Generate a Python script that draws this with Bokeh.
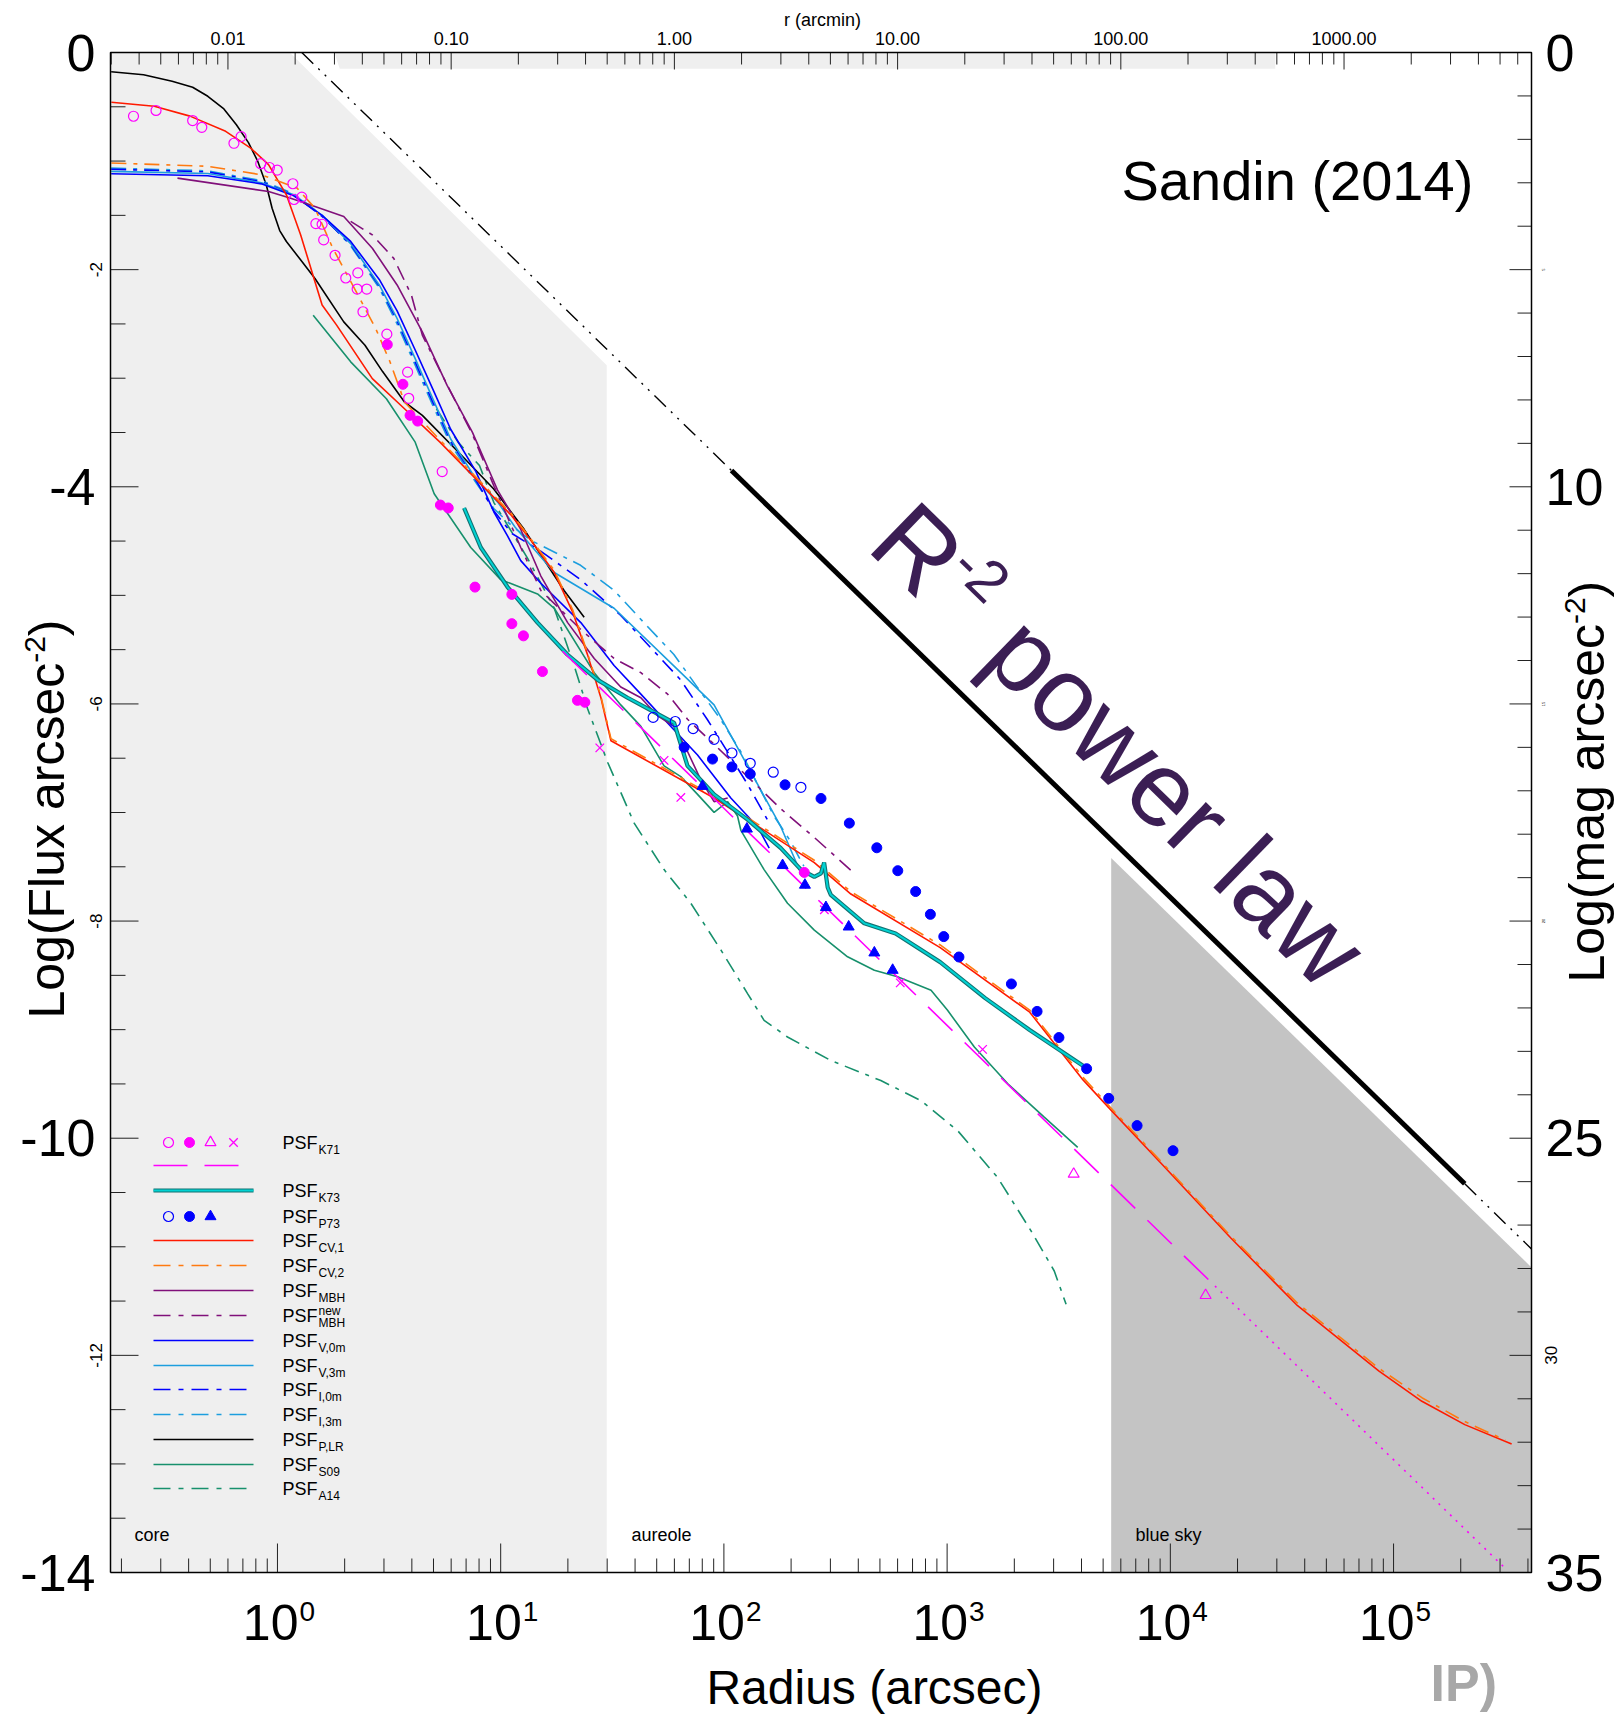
import math
from bokeh.plotting import figure
from bokeh.models import Range1d, Label
from bokeh.embed import file_html
from bokeh.resources import INLINE

# ---------------- data: log10(radius / arcsec) and log10(flux / arcsec^-2) ----------------
plr_r = [-0.745, -0.600, -0.472, -0.380, -0.312, -0.240, -0.184, -0.130, -0.088, -0.050, -0.024, 0.010, 0.040, 0.100, 0.168, 0.297, 0.392, 0.471, 0.569, 0.649, 0.809, 0.969, 1.105, 1.284, 1.374]
plr_f = [-0.178, -0.205, -0.264, -0.320, -0.403, -0.520, -0.665, -0.830, -1.003, -1.220, -1.434, -1.640, -1.741, -1.900, -2.081, -2.481, -2.696, -2.939, -3.219, -3.342, -3.677, -4.020, -4.392, -4.955, -5.201]

cv1_r = [-0.744, -0.552, -0.392, -0.232, -0.120, -0.040, 0.040, 0.104, 0.168, 0.200, 0.265, 0.425, 0.569, 0.728, 0.889, 1.049, 1.135, 1.240, 1.322, 1.389, 1.449, 1.494, 1.956, 2.405, 2.569, 2.969, 3.370, 3.609, 3.729, 3.970, 4.270, 4.570, 4.935, 5.127, 5.319, 5.529]
cv1_f = [-0.458, -0.495, -0.586, -0.726, -0.880, -1.033, -1.311, -1.680, -2.111, -2.326, -2.511, -3.004, -3.281, -3.589, -3.927, -4.266, -4.493, -4.789, -5.152, -5.546, -5.943, -6.339, -6.867, -7.461, -7.751, -8.245, -8.839, -9.463, -9.730, -10.256, -10.917, -11.543, -12.146, -12.423, -12.638, -12.816]

cv2_r = [-0.744, -0.312, -0.072, 0.088, 0.168, 0.248, 0.360, 0.440, 0.504, 0.569, 0.728, 0.889, 1.049, 1.135, 1.240, 1.322, 1.389, 1.449, 1.494, 1.956, 2.405, 2.569, 2.969, 3.370, 3.609, 3.729, 3.970, 4.270, 4.570, 4.935, 5.127, 5.319, 5.500]
cv2_f = [-1.018, -1.048, -1.126, -1.249, -1.434, -1.803, -2.232, -2.542, -2.848, -3.219, -3.570, -3.910, -4.250, -4.480, -4.770, -5.130, -5.530, -5.930, -6.320, -6.850, -7.440, -7.730, -8.220, -8.820, -9.440, -9.710, -10.240, -10.900, -11.520, -12.120, -12.390, -12.610, -12.780]

mbh_r = [-0.448, -0.040, 0.056, 0.168, 0.297, 0.425, 0.536, 0.649, 0.760, 0.873, 0.986, 1.090, 1.180, 1.300, 1.419, 1.538, 1.628, 1.703, 1.777, 1.837, 1.897, 1.956, 2.017]
mbh_f = [-1.157, -1.280, -1.341, -1.418, -1.511, -1.803, -2.141, -2.573, -3.066, -3.496, -4.030, -4.393, -4.822, -5.251, -5.581, -5.844, -5.943, -6.109, -6.207, -6.438, -6.702, -6.900, -6.867]

mbhn_r = [0.328, 0.425, 0.521, 0.600, 0.649, 0.760, 0.873, 0.971, 1.090, 1.180, 1.359, 1.508, 1.628, 1.748, 1.837, 1.956, 2.106, 2.255, 2.405, 2.584]
mbhn_f = [-1.556, -1.680, -1.896, -2.234, -2.603, -3.061, -3.515, -3.998, -4.559, -4.955, -5.315, -5.581, -5.712, -5.910, -6.141, -6.372, -6.670, -6.966, -7.230, -7.560]

v0_r = [-0.745, -0.312, -0.072, 0.073, 0.200, 0.328, 0.456, 0.536, 0.617, 0.696, 0.776, 0.889, 0.969, 1.030, 1.090, 1.180, 1.359, 1.508, 1.628, 1.732, 1.882, 2.031, 2.151, 2.203]
v0_f = [-1.117, -1.135, -1.210, -1.320, -1.500, -1.740, -2.090, -2.380, -2.740, -3.100, -3.470, -3.860, -4.230, -4.450, -4.680, -4.888, -5.251, -5.646, -5.910, -6.141, -6.471, -6.867, -7.131, -7.328]

v3_r = [-0.745, -0.312, -0.072, 0.073, 0.200, 0.328, 0.456, 0.536, 0.617, 0.696, 0.776, 0.889, 0.990, 1.064, 1.240, 1.508, 1.807, 1.956, 2.106, 2.255, 2.345]
v3_f = [-1.095, -1.115, -1.200, -1.310, -1.500, -1.760, -2.140, -2.450, -2.820, -3.190, -3.560, -3.930, -4.150, -4.370, -4.789, -5.119, -5.712, -6.009, -6.571, -7.131, -7.560]

i0_r = [-0.745, -0.312, -0.072, 0.073, 0.200, 0.328, 0.456, 0.536, 0.617, 0.696, 0.776, 0.889, 0.969, 1.050, 1.179, 1.358, 1.537, 1.686, 1.806, 1.925, 2.015, 2.104, 2.194]
i0_f = [-1.075, -1.100, -1.190, -1.310, -1.510, -1.770, -2.150, -2.470, -2.850, -3.220, -3.580, -3.940, -4.220, -4.430, -4.593, -4.855, -5.183, -5.513, -5.778, -6.141, -6.437, -6.733, -7.063]

i3_r = [-0.745, -0.312, -0.072, 0.073, 0.200, 0.328, 0.456, 0.536, 0.617, 0.696, 0.776, 0.889, 0.969, 1.050, 1.134, 1.358, 1.507, 1.656, 1.776, 1.880, 1.985, 2.075, 2.149, 2.224, 2.298, 2.358]
i3_f = [-1.065, -1.090, -1.180, -1.300, -1.500, -1.780, -2.170, -2.500, -2.880, -3.250, -3.610, -3.960, -4.200, -4.360, -4.492, -4.723, -4.952, -5.283, -5.545, -5.843, -6.141, -6.437, -6.733, -7.030, -7.264, -7.494]

s09_r = [0.160, 0.328, 0.488, 0.617, 0.702, 0.866, 1.000, 1.165, 1.240, 1.419, 1.538, 1.628, 1.732, 1.807, 1.882, 1.956, 2.017, 2.061, 2.076, 2.180, 2.285, 2.405, 2.554, 2.674, 2.778, 2.928, 3.002, 3.122, 3.272, 3.435, 3.585]
s09_f = [-2.419, -2.849, -3.189, -3.589, -4.064, -4.559, -4.855, -4.987, -5.119, -5.712, -6.009, -6.207, -6.571, -6.670, -6.833, -6.999, -6.900, -7.032, -7.164, -7.526, -7.836, -8.083, -8.329, -8.453, -8.513, -8.637, -8.822, -9.160, -9.499, -9.806, -10.084]

a14_r = [0.712, 0.809, 0.905, 0.969, 1.120, 1.240, 1.329, 1.389, 1.479, 1.598, 1.732, 1.852, 1.987, 2.106, 2.180, 2.285, 2.479, 2.703, 2.883, 3.047, 3.226, 3.376, 3.480, 3.533]
a14_f = [-3.281, -3.589, -3.804, -4.143, -4.657, -5.119, -5.646, -6.042, -6.537, -7.098, -7.526, -7.836, -8.268, -8.668, -8.914, -9.068, -9.284, -9.469, -9.654, -9.930, -10.361, -10.854, -11.223, -11.530]

k73_r = [0.836, 0.911, 1.030, 1.165, 1.300, 1.434, 1.568, 1.688, 1.777, 1.792, 1.837, 1.897, 1.956, 2.106, 2.255, 2.345, 2.405, 2.435, 2.449, 2.465, 2.479, 2.629, 2.769, 2.969, 3.169, 3.370, 3.609]
k73_f = [-4.195, -4.559, -4.921, -5.251, -5.547, -5.778, -5.943, -6.076, -6.175, -6.273, -6.571, -6.702, -6.833, -7.065, -7.328, -7.526, -7.593, -7.560, -7.461, -7.691, -7.758, -8.021, -8.114, -8.378, -8.707, -9.004, -9.333]

# K71 power-law fit (dashed, then dotted)
k71line_dash_r = [1.277, 4.200]
k71line_dash_f = [-5.515, -11.361]
k71line_dot_r = [4.200, 5.510]
k71line_dot_f = [-11.361, -13.981]

# K71 measurements
k71_open_r = [-0.645, -0.544, -0.380, -0.339, -0.195, -0.163, -0.075, -0.036, -0.001, 0.069, 0.074, 0.109, 0.172, 0.200, 0.207, 0.258, 0.306, 0.360, 0.357, 0.400, 0.383, 0.490, 0.583, 0.588, 0.738]
k71_open_f = [-0.587, -0.534, -0.627, -0.689, -0.836, -0.775, -1.024, -1.059, -1.083, -1.209, -1.354, -1.332, -1.576, -1.582, -1.726, -1.868, -2.077, -2.030, -2.179, -2.179, -2.388, -2.594, -2.944, -3.185, -3.860]
k71_fill_r = [0.492, 0.562, 0.594, 0.628, 0.730, 0.765, 0.885, 1.050, 1.050, 1.102, 1.187, 1.344, 1.377, 2.360]
k71_fill_f = [-2.690, -3.056, -3.342, -3.395, -4.168, -4.195, -4.924, -4.991, -5.261, -5.373, -5.702, -5.967, -5.985, -7.552]
k71_tri_r = [3.567, 4.158]
k71_tri_f = [-10.330, -11.447]
k71_x_r = [1.444, 1.732, 1.807, 2.450, 2.790, 3.159]
k71_x_f = [-6.405, -6.520, -6.861, -7.896, -8.569, -9.182]

# P73 measurements
p73_open_r = [1.683, 1.782, 1.862, 1.956, 2.036, 2.118, 2.221, 2.345]
p73_open_f = [-6.124, -6.162, -6.227, -6.326, -6.452, -6.547, -6.629, -6.768]
p73_fill_r = [1.822, 1.949, 2.036, 2.118, 2.274, 2.435, 2.562, 2.685, 2.779, 2.859, 2.925, 2.985, 3.053, 3.288, 3.403, 3.501, 3.625, 3.724, 3.851, 4.012]
p73_fill_f = [-6.399, -6.508, -6.580, -6.645, -6.745, -6.871, -7.098, -7.325, -7.536, -7.728, -7.938, -8.143, -8.331, -8.579, -8.832, -9.073, -9.360, -9.633, -9.884, -10.115]
p73_tri_r = [1.904, 2.103, 2.263, 2.363, 2.457, 2.559, 2.674, 2.756]
p73_tri_f = [-6.758, -7.151, -7.487, -7.668, -7.874, -8.053, -8.292, -8.452]

# R^-2 reference line (thin / thick / thin)
rlaw_thin1_r = [0.109, 2.034]
rlaw_thin1_f = [0.0, -3.850]
rlaw_thick_r = [2.034, 5.319]
rlaw_thick_f = [-3.850, -10.420]
rlaw_thin2_r = [5.319, 5.618]
rlaw_thin2_f = [-10.420, -11.020]

# shaded regions
core_r = [-0.748, 0.055, 1.475, 1.475, -0.748]
core_f = [0.0, 0.0, -2.880, -14.0, -14.0]
strip_r = [0.255, 4.470, 4.470, 0.279]
strip_f = [0.0, 0.0, -0.150, -0.150]
sky_r = [3.735, 5.618, 5.618, 3.735]
sky_f = [-7.420, -11.190, -14.0, -14.0]

# axis ticks and tick labels
decades = [0, 1, 2, 3, 4, 5]
arcmin_ticks = [0.01, 0.1, 1.0, 10.0, 100.0, 1000.0]
arcmin_labels = ["0.01", "0.10", "1.00", "10.00", "100.00", "1000.00"]
flux_major = [-14, -12, -10, -8, -6, -4, -2, 0]
left_big = [(0, "0"), (-4, "-4"), (-10, "-10"), (-14, "-14")]
left_small = [(-2, "-2"), (-6, "-6"), (-8, "-8"), (-12, "-12")]
mag_major = [0, 5, 10, 15, 20, 25, 30, 35]
right_big = [(0, "0"), (10, "10"), (25, "25"), (35, "35")]
right_small = [(30, "30")]
right_tiny = [(5, "5"), (15, "15"), (20, "20")]

legend_names = ["K71", "K73", "P73", "CV,1", "CV,2", "MBH", "MBH", "V,0m", "V,3m", "I,0m", "I,3m", "P,LR", "S09", "A14"]

# ---------------- layout (pixel geometry of the plotting box) ----------------
W, H = 1621, 1715
FL, FR, FT, FB = 110, 1531, 52, 1572
LX0, LX1 = -0.748, 5.618
PPD = (FR - FL) / (LX1 - LX0)
PPY = (FB - FT) / 14.0
FONT = "Liberation Sans"
MID = 0.34  # font-box middle above the alphabetic baseline (em)

def R(v):
    return [10 ** a for a in v]

def px_x(px):
    return 10 ** (LX0 + (px - FL) / PPD)

def px_y(py):
    return -(py - FT) / PPY

p = figure(width=W, height=H, x_axis_type="log",
           x_range=Range1d(px_x(0), px_x(W)), y_range=Range1d(px_y(H), px_y(0)),
           x_axis_location=None, y_axis_location=None,
           output_backend="svg", toolbar_location=None,
           min_border_left=0, min_border_right=0, min_border_top=0, min_border_bottom=0)
p.grid.visible = False
p.outline_line_color = None
p.background_fill_color = "white"
p.border_fill_color = "white"

XL, XR = 10 ** LX0, 10 ** LX1
YB, YT = -14.0, 0.0

# ---------------- shaded regions ----------------
p.patch(R(core_r), core_f, fill_color="#efefef", line_color=None)
p.patch(R(strip_r), strip_f, fill_color="#efefef", line_color=None)
p.patch(R(sky_r), sky_f, fill_color="#c4c4c4", line_color=None)

# ---------------- axis ticks (inward) ----------------
TICK = "#222222"
bot_minor = [k * 10.0 ** d for d in range(-1, 6) for k in range(2, 10)
             if LX0 < math.log10(k * 10.0 ** d) < LX1]
bot_major = [10.0 ** d for d in decades]
p.segment(x0=bot_major, y0=[YB] * 6, x1=bot_major, y1=[YB + 29 / PPY] * 6, line_color=TICK, line_width=1)
p.segment(x0=bot_minor, y0=[YB] * len(bot_minor), x1=bot_minor, y1=[YB + 14 / PPY] * len(bot_minor), line_color=TICK, line_width=1)

top_major = [60.0 * a for a in arcmin_ticks]
top_minor = [60.0 * k * 10.0 ** d for d in range(-3, 4) for k in range(2, 10)
             if LX0 < math.log10(60.0 * k * 10.0 ** d) < LX1]
p.segment(x0=top_major, y0=[YT] * 6, x1=top_major, y1=[YT - 17 / PPY] * 6, line_color=TICK, line_width=1)
p.segment(x0=top_minor, y0=[YT] * len(top_minor), x1=top_minor, y1=[YT - 12 / PPY] * len(top_minor), line_color=TICK, line_width=1)

left_minor = [-0.5 * i for i in range(29) if i % 4 != 0]
p.segment(x0=[XL] * len(flux_major), y0=flux_major, x1=[px_x(FL + 28)] * len(flux_major), y1=flux_major, line_color=TICK, line_width=1)
p.segment(x0=[XL] * len(left_minor), y0=left_minor, x1=[px_x(FL + 15)] * len(left_minor), y1=left_minor, line_color=TICK, line_width=1)

mag_minor = [m for m in range(36) if m % 5 != 0]
p.segment(x0=[XR] * len(mag_major), y0=[-m / 2.5 for m in mag_major], x1=[px_x(FR - 22)] * len(mag_major),
          y1=[-m / 2.5 for m in mag_major], line_color=TICK, line_width=1)
p.segment(x0=[XR] * len(mag_minor), y0=[-m / 2.5 for m in mag_minor], x1=[px_x(FR - 14)] * len(mag_minor),
          y1=[-m / 2.5 for m in mag_minor], line_color=TICK, line_width=1)

# ---------------- R^-2 law ----------------
p.line(R(rlaw_thin1_r), rlaw_thin1_f, line_color="black", line_width=1.4, line_dash="16 7 2 7 2 7")
p.line(R(rlaw_thick_r), rlaw_thick_f, line_color="black", line_width=5)
p.line(R(rlaw_thin2_r), rlaw_thin2_f, line_color="black", line_width=1.4, line_dash="16 7 2 7 2 7")

DD = "15 7 4 7"
LW = 1.6
C_MAG = "#ff00ff"
C_BLUE = "#0000ff"
C_LBLUE = "#1c9ede"
C_RED = "#ff1a00"
C_ORANGE = "#ff7a10"
C_PURPLE = "#80107a"
C_GREEN = "#17906c"
C_CYAN = "#00d2d2"
C_CYAN_EDGE = "#127272"

p.line(R(a14_r), a14_f, line_color=C_GREEN, line_width=LW, line_dash=DD)
p.line(R(s09_r), s09_f, line_color=C_GREEN, line_width=LW)
p.line(R(plr_r), plr_f, line_color="black", line_width=LW)
p.line(R(i3_r), i3_f, line_color=C_LBLUE, line_width=LW, line_dash=DD)
p.line(R(i0_r), i0_f, line_color=C_BLUE, line_width=LW, line_dash=DD)
p.line(R(v3_r), v3_f, line_color=C_LBLUE, line_width=LW)
p.line(R(v0_r), v0_f, line_color=C_BLUE, line_width=LW)
p.line(R(mbhn_r), mbhn_f, line_color=C_PURPLE, line_width=LW, line_dash=DD)
p.line(R(mbh_r), mbh_f, line_color=C_PURPLE, line_width=LW)
p.line(R(cv1_r), cv1_f, line_color=C_RED, line_width=LW)
p.line(R(cv2_r), cv2_f, line_color=C_ORANGE, line_width=LW, line_dash=DD)
p.line(R(k73_r), k73_f, line_color=C_CYAN_EDGE, line_width=4.2)
p.line(R(k73_r), k73_f, line_color=C_CYAN, line_width=2.0)
p.line(R(k71line_dash_r), k71line_dash_f, line_color=C_MAG, line_width=LW, line_dash="34 17")
p.line(R(k71line_dot_r), k71line_dot_f, line_color=C_MAG, line_width=LW, line_dash="2 6")

# markers
p.scatter(R(k71_open_r), k71_open_f, marker="circle", size=10, fill_color=None, line_color=C_MAG, line_width=1.2)
p.scatter(R(k71_fill_r), k71_fill_f, marker="circle", size=10, fill_color=C_MAG, line_color=C_MAG)
p.scatter(R(k71_tri_r), k71_tri_f, marker="triangle", size=11, fill_color=None, line_color=C_MAG, line_width=1.2)
p.scatter(R(k71_x_r), k71_x_f, marker="x", size=12, line_color=C_MAG, line_width=1.3)
p.scatter(R(p73_open_r), p73_open_f, marker="circle", size=10, fill_color=None, line_color=C_BLUE, line_width=1.2)
p.scatter(R(p73_fill_r), p73_fill_f, marker="circle", size=10, fill_color=C_BLUE, line_color=C_BLUE)
p.scatter(R(p73_tri_r), p73_tri_f, marker="triangle", size=11, fill_color=C_BLUE, line_color=C_BLUE)

# plotting box
p.line([XL, XR, XR, XL, XL], [YB, YB, YT, YT, YB], line_color="black", line_width=1.5)

# ---------------- labels helper (py = alphabetic baseline in px) ----------------
def lab(text, px, py, size, align="left", angle=0.0, color="black", font=FONT, style="normal", centered=False):
    if centered:
        cx, cy = px, py
    else:
        # shift from baseline to the font-box middle, along the glyph "up" direction
        cx = px - MID * size * math.sin(angle)
        cy = py - MID * size * math.cos(angle)
    p.add_layout(Label(x=px_x(cx), y=px_y(cy), text=text, text_font_size=f"{size}px",
                       text_align=align, text_baseline="middle", angle=angle,
                       text_color=color, text_font=font, text_font_style=style))

# ---------------- legend (manual) ----------------
LX_A, LX_B = 153, 253
rows = {"K71m": 1142, "K71l": 1165, "K73": 1190, "P73": 1216, "CV,1": 1240, "CV,2": 1265,
        "MBH": 1290, "MBHn": 1315, "V,0m": 1340, "V,3m": 1365, "I,0m": 1389, "I,3m": 1414,
        "P,LR": 1439, "S09": 1464, "A14": 1488}

def leg_line(row, color, dash="solid", width=LW):
    y = px_y(rows[row])
    p.line([px_x(LX_A), px_x(LX_B)], [y, y], line_color=color, line_width=width, line_dash=dash)

ym = px_y(rows["K71m"])
p.scatter([px_x(168)], [ym], marker="circle", size=10, fill_color=None, line_color=C_MAG, line_width=1.2)
p.scatter([px_x(189)], [ym], marker="circle", size=10, fill_color=C_MAG, line_color=C_MAG)
p.scatter([px_x(210)], [ym], marker="triangle", size=11, fill_color=None, line_color=C_MAG, line_width=1.2)
p.scatter([px_x(233)], [ym], marker="x", size=12, line_color=C_MAG, line_width=1.3)
y2 = px_y(rows["K71l"])
p.line([px_x(153), px_x(239)], [y2, y2], line_color=C_MAG, line_width=LW, line_dash="34 17")
y3 = px_y(rows["K73"])
p.line([px_x(LX_A), px_x(LX_B)], [y3, y3], line_color=C_CYAN_EDGE, line_width=4.2)
p.line([px_x(LX_A), px_x(LX_B)], [y3, y3], line_color=C_CYAN, line_width=2.0)
yp = px_y(rows["P73"])
p.scatter([px_x(168)], [yp], marker="circle", size=10, fill_color=None, line_color=C_BLUE, line_width=1.2)
p.scatter([px_x(189)], [yp], marker="circle", size=10, fill_color=C_BLUE, line_color=C_BLUE)
p.scatter([px_x(210)], [yp], marker="triangle", size=11, fill_color=C_BLUE, line_color=C_BLUE)
leg_line("CV,1", C_RED)
leg_line("CV,2", C_ORANGE, "17 8 5 8")
leg_line("MBH", C_PURPLE)
leg_line("MBHn", C_PURPLE, "17 8 5 8")
leg_line("V,0m", C_BLUE)
leg_line("V,3m", C_LBLUE)
leg_line("I,0m", C_BLUE, "17 8 5 8")
leg_line("I,3m", C_LBLUE, "17 8 5 8")
leg_line("P,LR", "black")
leg_line("S09", C_GREEN)
leg_line("A14", C_GREEN, "17 8 5 8")

label_rows = ["K71m", "K73", "P73", "CV,1", "CV,2", "MBH", "MBHn", "V,0m", "V,3m", "I,0m", "I,3m", "P,LR", "S09", "A14"]
for row, name in zip(label_rows, legend_names):
    yy = rows[row]
    lab("PSF", 282, yy + 7, 18)
    lab(name, 318, yy + 12, 12)
    if row == "MBHn":
        lab("new", 318, yy, 12)

# ---------------- region names ----------------
lab("core", 134, 1541, 18)
lab("aureole", 631, 1541, 18)
lab("blue sky", 1135, 1541, 18)

# ---------------- axis tick labels ----------------
for d in decades:
    tx = FL + (d - LX0) * PPD
    lab("10", tx + 21, 1639, 50, align="right")
    lab(str(d), tx + 22, 1621, 28)

for a, t in zip(arcmin_ticks, arcmin_labels):
    tx = FL + (math.log10(60.0 * a) - LX0) * PPD
    lab(t, tx, 44, 18, align="center")
lab("r (arcmin)", 822, 26, 18, align="center")

for v, t in left_big:
    lab(t, 95, FT - v * PPY, 52, align="right", centered=True)
for v, t in left_small:
    lab(t, 95, FT - v * PPY, 17, align="center", angle=math.pi / 2, centered=True)
for m, t in right_big:
    lab(t, 1545, FT + (m / 2.5) * PPY, 52, align="left", centered=True)
for m, t in right_small:
    lab(t, 1550, FT + (m / 2.5) * PPY, 17, align="center", angle=math.pi / 2, centered=True)
for m, t in right_tiny:
    lab(t, 1543, FT + (m / 2.5) * PPY, 4, align="center", angle=math.pi / 2, centered=True)

# axis titles
lab("Radius (arcsec)", 874, 1703, 48, align="center")
# left: Log(Flux arcsec^-2), rotated, baseline at x = 63
lab("Log(Flux arcsec", 63, 1018, 50, angle=math.pi / 2)
lab("-2", 45, 1018 - 7.113 * 50, 30, angle=math.pi / 2)
lab(")", 63, 1018 - 7.113 * 50 - 0.889 * 30, 50, angle=math.pi / 2)
# right: Log(mag arcsec^-2), baseline at x = 1603
lab("Log(mag arcsec", 1603, 982, 50, angle=math.pi / 2)
lab("-2", 1585, 982 - 7.169 * 50, 30, angle=math.pi / 2)
lab(")", 1603, 982 - 7.169 * 50 - 0.889 * 30, 50, angle=math.pi / 2)

# ---------------- annotations ----------------
lab("Sandin (2014)", 1121, 199, 56)
lab("IP)", 1430, 1700, 52, color="#a8a8a8", style="bold")

# "R^-2 power law" rotated along the reference line
th = math.atan2(2 * PPY, PPD)
cx0 = FL + (rlaw_thick_r[0] - LX0) * PPD
cy0 = FT - rlaw_thick_f[0] * PPY
ux, uy = math.cos(th), math.sin(th)
nx, ny = math.sin(th), -math.cos(th)
FS = 106
def along(s, h):
    return cx0 + (150 + s) * ux + (38 + h) * nx, cy0 + (150 + s) * uy + (38 + h) * ny
C_TXT = "#3b1e54"
x1, y1 = along(0, MID * FS)
lab("R", x1, y1, FS, angle=-th, color=C_TXT, centered=True)
x2, y2 = along(0.722 * FS - 2, 0.40 * FS + MID * 0.56 * FS)
lab("-2", x2, y2, int(0.56 * FS), angle=-th, color=C_TXT, centered=True)
x3, y3 = along(0.722 * FS + 0.889 * 0.56 * FS + 0.278 * FS + 2, MID * FS)
lab("power law", x3, y3, FS, angle=-th, color=C_TXT, centered=True)

open("out.html", "w").write(file_html(p, INLINE))
